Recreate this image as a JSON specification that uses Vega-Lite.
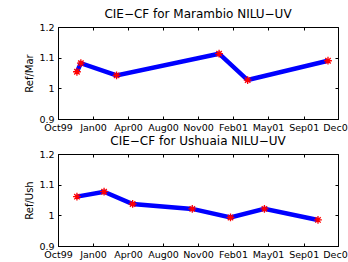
{
  "$schema": "https://vega.github.io/schema/vega-lite/v6.json",
  "padding": {"left": 24, "top": 7, "right": 5, "bottom": 2},
  "datasets": {
    "mar": [
      {"date": "1999-12-08", "v": 1.054},
      {"date": "1999-12-19", "v": 1.082},
      {"date": "2000-03-28", "v": 1.042},
      {"date": "2001-01-09", "v": 1.113},
      {"date": "2001-03-30", "v": 1.027},
      {"date": "2001-11-10", "v": 1.090}
    ],
    "ush": [
      {"date": "1999-12-08", "v": 1.061},
      {"date": "2000-02-22", "v": 1.077},
      {"date": "2000-05-12", "v": 1.037},
      {"date": "2000-10-26", "v": 1.021},
      {"date": "2001-02-10", "v": 0.993},
      {"date": "2001-05-16", "v": 1.021},
      {"date": "2001-10-13", "v": 0.985}
    ]
  },
  "vconcat": [
    {
      "title": "CIE−CF for Marambio NILU−UV",
      "width": 280,
      "height": 92,
      "data": {"name": "mar"},
      "layer": [
        {"mark": {"type": "line", "color": "#0000ff", "strokeWidth": 4.5},
         "encoding": {
          "x": {"field": "date", "type": "temporal",
            "scale": {"type": "utc", "nice": false, "domain": [{"year": 1999, "month": 10, "date": 16, "utc": true}, {"year": 2001, "month": 12, "date": 8, "utc": true}]},
            "axis": {"title": null, "format": "%b%y", "labelOverlap": false, "labelFlush": false, "labelPadding": 6, "values": [
              {"year": 1999, "month": 10, "date": 16, "utc": true},
              {"year": 2000, "month": 1, "date": 22, "utc": true},
              {"year": 2000, "month": 4, "date": 29, "utc": true},
              {"year": 2000, "month": 8, "date": 5, "utc": true},
              {"year": 2000, "month": 11, "date": 11, "utc": true},
              {"year": 2001, "month": 2, "date": 17, "utc": true},
              {"year": 2001, "month": 5, "date": 26, "utc": true},
              {"year": 2001, "month": 9, "date": 3, "utc": true},
              {"year": 2001, "month": 12, "date": 8, "utc": true}
            ]}},
          "y": {"field": "v", "type": "quantitative",
            "scale": {"domain": [0.9, 1.2], "nice": false, "zero": false},
            "axis": {"title": "Ref/Mar", "values": [0.9, 1, 1.1, 1.2], "format": "~g", "labelPadding": 7}}
         }},
        {"mark": {"type": "point", "shape": "M-1,0L1,0M0,-1L0,1M-0.7,-0.7L0.7,0.7M-0.7,0.7L0.7,-0.7", "stroke": "#ff0000", "filled": false, "strokeWidth": 1.3, "size": 60, "opacity": 1},
         "encoding": {
          "x": {"field": "date", "type": "temporal",
            "axis": {"orient": "top", "title": null, "labels": false, "domain": false, "values": [
              {"year": 1999, "month": 10, "date": 16, "utc": true},
              {"year": 2000, "month": 1, "date": 22, "utc": true},
              {"year": 2000, "month": 4, "date": 29, "utc": true},
              {"year": 2000, "month": 8, "date": 5, "utc": true},
              {"year": 2000, "month": 11, "date": 11, "utc": true},
              {"year": 2001, "month": 2, "date": 17, "utc": true},
              {"year": 2001, "month": 5, "date": 26, "utc": true},
              {"year": 2001, "month": 9, "date": 3, "utc": true},
              {"year": 2001, "month": 12, "date": 8, "utc": true}
            ]}},
          "y": {"field": "v", "type": "quantitative",
            "axis": {"orient": "right", "title": null, "labels": false, "domain": false, "values": [0.9, 1, 1.1, 1.2]}}
         }}
      ],
      "resolve": {"axis": {"x": "independent", "y": "independent"}}
    },
    {
      "title": "CIE−CF for Ushuaia NILU−UV",
      "width": 280,
      "height": 92,
      "data": {"name": "ush"},
      "layer": [
        {"mark": {"type": "line", "color": "#0000ff", "strokeWidth": 4.5},
         "encoding": {
          "x": {"field": "date", "type": "temporal",
            "scale": {"type": "utc", "nice": false, "domain": [{"year": 1999, "month": 10, "date": 16, "utc": true}, {"year": 2001, "month": 12, "date": 8, "utc": true}]},
            "axis": {"title": null, "format": "%b%y", "labelOverlap": false, "labelFlush": false, "labelPadding": 6, "values": [
              {"year": 1999, "month": 10, "date": 16, "utc": true},
              {"year": 2000, "month": 1, "date": 22, "utc": true},
              {"year": 2000, "month": 4, "date": 29, "utc": true},
              {"year": 2000, "month": 8, "date": 5, "utc": true},
              {"year": 2000, "month": 11, "date": 11, "utc": true},
              {"year": 2001, "month": 2, "date": 17, "utc": true},
              {"year": 2001, "month": 5, "date": 26, "utc": true},
              {"year": 2001, "month": 9, "date": 3, "utc": true},
              {"year": 2001, "month": 12, "date": 8, "utc": true}
            ]}},
          "y": {"field": "v", "type": "quantitative",
            "scale": {"domain": [0.9, 1.2], "nice": false, "zero": false},
            "axis": {"title": "Ref/Ush", "values": [0.9, 1, 1.1, 1.2], "format": "~g", "labelPadding": 7}}
         }},
        {"mark": {"type": "point", "shape": "M-1,0L1,0M0,-1L0,1M-0.7,-0.7L0.7,0.7M-0.7,0.7L0.7,-0.7", "stroke": "#ff0000", "filled": false, "strokeWidth": 1.3, "size": 60, "opacity": 1},
         "encoding": {
          "x": {"field": "date", "type": "temporal",
            "axis": {"orient": "top", "title": null, "labels": false, "domain": false, "values": [
              {"year": 1999, "month": 10, "date": 16, "utc": true},
              {"year": 2000, "month": 1, "date": 22, "utc": true},
              {"year": 2000, "month": 4, "date": 29, "utc": true},
              {"year": 2000, "month": 8, "date": 5, "utc": true},
              {"year": 2000, "month": 11, "date": 11, "utc": true},
              {"year": 2001, "month": 2, "date": 17, "utc": true},
              {"year": 2001, "month": 5, "date": 26, "utc": true},
              {"year": 2001, "month": 9, "date": 3, "utc": true},
              {"year": 2001, "month": 12, "date": 8, "utc": true}
            ]}},
          "y": {"field": "v", "type": "quantitative",
            "axis": {"orient": "right", "title": null, "labels": false, "domain": false, "values": [0.9, 1, 1.1, 1.2]}}
         }}
      ],
      "resolve": {"axis": {"x": "independent", "y": "independent"}}
    }
  ],
  "spacing": 2,
  "config": {
    "font": "DejaVu Sans",
    "view": {"stroke": "black", "strokeWidth": 1},
    "title": {"fontSize": 12, "fontWeight": "normal", "color": "black", "offset": 1},
    "axis": {"grid": false, "domainColor": "black", "tickColor": "black", "labelColor": "black", "titleColor": "black", "labelFontSize": 9.5, "titleFontSize": 10, "titleFontWeight": "normal", "tickSize": -3, "labelPadding": 2}
  }
}
